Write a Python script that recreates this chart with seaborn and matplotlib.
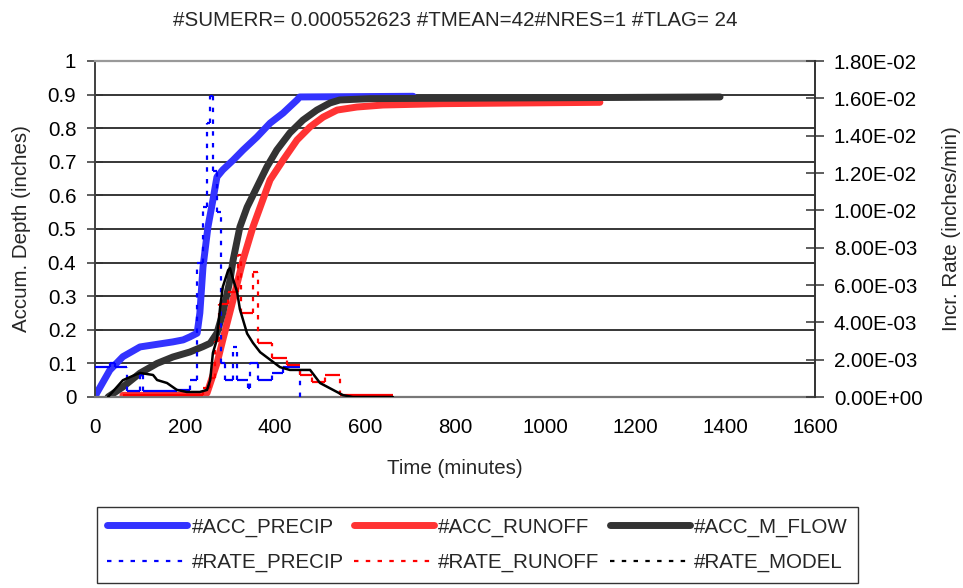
import numpy as np
import matplotlib
matplotlib.use("Agg")
import matplotlib.pyplot as plt
from matplotlib.lines import Line2D
import seaborn as sns

# ---------------- data ----------------
acc_precip_t = [0, 4, 33, 62, 100, 173, 196, 211, 227, 233, 240, 251, 262, 271, 284, 307, 329, 360, 389, 418, 449, 455, 707]
acc_precip_d = [0.0, 0.012, 0.08, 0.12, 0.149, 0.164, 0.17, 0.179, 0.19, 0.25, 0.387, 0.506, 0.586, 0.655, 0.676, 0.705,
                0.735, 0.774, 0.815, 0.845, 0.884, 0.893, 0.895]

acc_runoff_t = [62, 200, 245, 249, 271, 284, 307, 329, 351, 367, 389, 418, 449, 478, 507, 538, 582, 640, 773, 938, 1122]
acc_runoff_d = [0.005, 0.005, 0.008, 0.012, 0.10, 0.17, 0.29, 0.408, 0.506, 0.565, 0.646, 0.705, 0.765, 0.804, 0.833,
                0.854, 0.863, 0.869, 0.873, 0.875, 0.877]

acc_mflow_t = [29, 62, 100, 138, 173, 211, 240, 256, 271, 284, 300, 307, 322, 338, 360, 382, 404, 433, 462, 493, 522,
               544, 611, 1389]
acc_mflow_d = [0.0, 0.03, 0.071, 0.10, 0.119, 0.134, 0.15, 0.16, 0.19, 0.25, 0.348, 0.408, 0.506, 0.565, 0.625, 0.685,
               0.735, 0.786, 0.824, 0.854, 0.875, 0.884, 0.888, 0.893]

# step series: start time of each step and its value
rate_precip_t = [0, 33, 44, 71, 100, 107, 182, 211, 227, 240, 249, 256, 262, 271, 280, 289, 307, 316, 340, 344, 362,
                 393, 418, 455]
rate_precip_r = [0.0016, 0.0018, 0.0016, 0.0003, 0.0012, 0.0003, 0.0004, 0.0009, 0.0072, 0.0102, 0.0147, 0.0161,
                 0.0121, 0.0099, 0.0018, 0.0009, 0.0027, 0.0009, 0.0005, 0.0018, 0.0009, 0.0013, 0.0016, 0.0]

rate_runoff_t = [62, 240, 256, 267, 276, 296, 318, 324, 351, 362, 393, 427, 455, 482, 511, 544, 662]
rate_runoff_r = [0.0001, 0.0005, 0.0010, 0.0030, 0.0050, 0.0056, 0.0076, 0.0045, 0.0067, 0.0029, 0.0021, 0.0017,
                 0.0012, 0.0008, 0.0012, 0.0001, 0.0001]

rate_model_t = [29, 62, 78, 100, 129, 138, 160, 182, 204, 233, 249, 256, 262, 271, 278, 284, 296, 300, 307, 316, 322,
                338, 351, 367, 389, 411, 433, 478, 500, 529, 551, 573, 662]
rate_model_r = [0, 0.0009, 0.00107, 0.00129, 0.00118, 0.00091, 0.00075, 0.00038, 0.00027, 0.00027, 0.00038, 0.00091,
                0.00236, 0.0031, 0.0048, 0.0059, 0.0068, 0.0069, 0.0063, 0.0056, 0.0047, 0.0034, 0.0029, 0.0024,
                0.002, 0.0016, 0.00145, 0.00145, 0.00075, 0.00038, 0.0001, 0, 0]

x_ticks = [0, 200, 400, 600, 800, 1000, 1200, 1400, 1600]
left_ticks = [0, 0.1, 0.2, 0.3, 0.4, 0.5, 0.6, 0.7, 0.8, 0.9, 1.0]
left_labels = ["0", "0.1", "0.2", "0.3", "0.4", "0.5", "0.6", "0.7", "0.8", "0.9", "1"]
right_ticks = [0, 0.002, 0.004, 0.006, 0.008, 0.010, 0.012, 0.014, 0.016, 0.018]

title = "#SUMERR= 0.000552623 #TMEAN=42#NRES=1 #TLAG= 24"
labels = ["#ACC_PRECIP", "#ACC_RUNOFF", "#ACC_M_FLOW", "#RATE_PRECIP", "#RATE_RUNOFF", "#RATE_MODEL"]

# ---------------- style ----------------
sns.set_style("white")
plt.rcParams["font.family"] = ["Liberation Sans", "DejaVu Sans"]
FS = 14.8

C_BLUE, C_RED, C_DARK = "#3333FF", "#FF3333", "#333333"
C_BLUE_R, C_RED_R, C_BLACK_R = "#0000FF", "#FF0000", "#000000"
THICK = 5.0
THIN = 1.6
DOTS = (0, (2, 3.3))

fig = plt.figure(figsize=(9.63, 5.88), dpi=100)
fig.patch.set_facecolor("white")
ax = fig.add_axes([95 / 963, 1 - 397 / 588, 720 / 963, 336 / 588])
ax2 = ax.twinx()

# accumulated series (left axis)
sns.lineplot(x=acc_precip_t, y=acc_precip_d, ax=ax, color=C_BLUE, lw=THICK, estimator=None, legend=False)
sns.lineplot(x=acc_runoff_t, y=acc_runoff_d, ax=ax, color=C_RED, lw=THICK, estimator=None, legend=False)
sns.lineplot(x=acc_mflow_t, y=acc_mflow_d, ax=ax, color=C_DARK, lw=THICK, estimator=None, legend=False)


def step_lines(axis, t, r, color):
    t = np.asarray(t, float)
    r = np.asarray(r, float)
    # horizontal parts solid, vertical jumps dotted (as Excel renders dense step data)
    axis.hlines(r[:-1], t[:-1], t[1:], colors=color, lw=THIN)
    axis.vlines(t[1:], np.minimum(r[:-1], r[1:]), np.maximum(r[:-1], r[1:]), colors=color, lw=THIN,
                linestyles=[DOTS])


step_lines(ax2, rate_precip_t, rate_precip_r, C_BLUE_R)
step_lines(ax2, rate_runoff_t, rate_runoff_r, C_RED_R)
sns.lineplot(x=rate_model_t, y=rate_model_r, ax=ax2, color=C_BLACK_R, lw=THIN + 0.2, estimator=None, legend=False)

# ---------------- axes ----------------
ax.set_xlim(0, 1600)
ax.set_ylim(0, 1)
ax2.set_ylim(0, 0.018)
ax.set_xticks(x_ticks)
ax.set_xticklabels([str(v) for v in x_ticks], fontsize=FS)
ax.set_yticks(left_ticks)
ax.set_yticklabels(left_labels, fontsize=FS)
ax2.set_yticks(right_ticks)
ax2.set_yticklabels([f"{v:.2E}" for v in right_ticks], fontsize=FS)
ax.set_xlabel("")
ax.set_ylabel("")
ax2.set_ylabel("")

ax.set_axisbelow(True)
ax.yaxis.grid(True, color="black", lw=1.1)
ax.xaxis.grid(False)

ax.tick_params(axis="y", direction="inout", length=12, width=1.1, color="#333333", pad=7.5, labelcolor="black")
ax.tick_params(axis="x", direction="out", length=5, width=1.1, color="#555555", pad=10, labelcolor="black")
ax2.tick_params(axis="y", direction="inout", length=13, width=1.1, color="#333333", pad=7, labelcolor="black")

for s in ["top", "left", "bottom"]:
    ax2.spines[s].set_visible(False)
ax.spines["right"].set_visible(False)
ax.spines["top"].set_color("#999999")
ax.spines["top"].set_linewidth(1.6)
ax.spines["left"].set_color("#404040")
ax.spines["left"].set_linewidth(1.4)
ax.spines["bottom"].set_color("#777777")
ax.spines["bottom"].set_linewidth(1.6)
ax2.spines["right"].set_color("#333333")
ax2.spines["right"].set_linewidth(1.4)

# ---------------- texts ----------------
fig.text(455 / 963, 1 - 20 / 588, title, ha="center", va="center", fontsize=FS)
fig.text(455 / 963, 1 - 468 / 588, "Time (minutes)", ha="center", va="center", fontsize=FS)
fig.text(22 / 963, 1 - 229 / 588, "Accum. Depth (inches)", ha="center", va="center", rotation=90, fontsize=FS)
fig.text(951 / 963, 1 - 229 / 588, "Incr. Rate (inches/min)", ha="center", va="center", rotation=90, fontsize=FS)

# ---------------- legend ----------------
h = [
    Line2D([], [], color=C_BLUE, lw=THICK),
    Line2D([], [], color=C_BLUE_R, lw=THIN, linestyle=DOTS),
    Line2D([], [], color=C_RED, lw=THICK),
    Line2D([], [], color=C_RED_R, lw=THIN, linestyle=DOTS),
    Line2D([], [], color=C_DARK, lw=THICK),
    Line2D([], [], color=C_BLACK_R, lw=THIN, linestyle=DOTS),
]
lab = [labels[0], labels[3], labels[1], labels[4], labels[2], labels[5]]
leg = fig.legend(h, lab, ncol=3, loc="upper left", bbox_to_anchor=(97 / 963, 1 - 507 / 588),
                 frameon=True, fancybox=False, edgecolor="black", fontsize=FS, handlelength=3.9,
                 handletextpad=0.2, columnspacing=0.5, labelspacing=0.8, borderpad=0.5,
                 borderaxespad=0)
leg.get_frame().set_linewidth(1.0)

fig.savefig("out.png", dpi=100, facecolor="white")
